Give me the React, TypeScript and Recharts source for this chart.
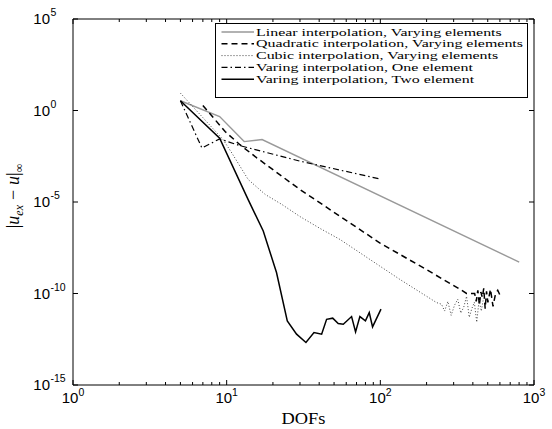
import { LineChart, Line, XAxis, YAxis, Legend } from 'recharts';

// tick positions
const xMajorTicks = [1, 10, 100, 1000];
const xMinorTicks = [2, 3, 4, 5, 6, 7, 8, 9, 20, 30, 40, 50, 60, 70, 80, 90, 200, 300, 400, 500, 600, 700, 800, 900];
const yMajorTicks = [1e-15, 1e-10, 1e-5, 1, 1e5];

// Linear interpolation, Varying elements
const linearDofs = [5, 9, 13, 17, 801];
const linearErr = [3.4, 0.47, 0.02, 0.026, 5.2e-9];

// Quadratic interpolation, Varying elements
const quadDofs = [7, 9.8, 12.2, 15.7, 30, 99, 200, 330, 364, 411, 421, 431, 441, 451, 461, 471, 481, 491, 501, 521, 541, 561, 581, 601];
const quadErr = [1.9, 0.069, 0.0135, 2.6e-3, 4.8e-5, 5.9e-8, 2e-9, 1.7e-10, 1.0e-10, 1.0e-10, 3.7e-11, 1.5e-10, 2.3e-11, 1.2e-10, 6.2e-11, 1.9e-10, 1.5e-11, 1.3e-10, 3.3e-11, 1.7e-10, 2e-11, 9e-11, 1.5e-10, 8e-11];

// Cubic interpolation, Varying elements
const cubicDofs = [5, 9.5, 10.8, 13.8, 17.8, 22.9, 30, 40.5, 54.6, 99, 134, 232, 250, 262, 275, 289, 304, 319, 334, 349, 364, 379, 394, 409, 424, 439, 454, 469];
const cubicErr = [8.9, 0.025, 4.8e-3, 1.7e-4, 2.6e-5, 7.3e-6, 1.6e-6, 3.6e-7, 9e-8, 3.2e-9, 5.9e-10, 3.2e-11, 2.6e-11, 1.1e-11, 3.7e-11, 6.4e-12, 2.3e-11, 4.8e-11, 8.5e-12, 1.8e-11, 7e-11, 5e-12, 1.5e-11, 3.3e-11, 2.7e-12, 4.3e-11, 1.1e-11, 5.5e-11];

// Varing interpolation, One element
const oneElDofs = [5, 6.9, 9, 12.2, 30, 100];
const oneElErr = [3.4, 9e-3, 0.028, 0.012, 1.7e-3, 1.8e-4];

// Varing interpolation, Two element
const twoElDofs = [5, 9, 13.8, 17.3, 21.1, 24.8, 28.5, 32.8, 37, 41.5, 44.7, 49, 53.2, 57.4, 65, 69, 73.6, 80, 84.7, 89, 101];
const twoElErr = [3.4, 0.031, 1.35e-5, 2.6e-7, 1.4e-9, 3.2e-12, 6e-13, 2.1e-13, 7.4e-13, 6e-13, 3.9e-12, 4.5e-12, 2.3e-12, 2.1e-12, 5.5e-12, 8e-13, 5.5e-12, 3.2e-12, 9e-12, 1.5e-12, 1.4e-11];

const toPoints = (xs: number[], ys: number[]) => xs.map((x, i) => ({ x, y: ys[i] }));

const SERIES = [
  { name: 'Linear interpolation, Varying elements', data: toPoints(linearDofs, linearErr), stroke: '#999999', width: 1.4, dash: undefined },
  { name: 'Quadratic interpolation, Varying elements', data: toPoints(quadDofs, quadErr), stroke: '#000000', width: 1.5, dash: '6 4' },
  { name: 'Cubic interpolation, Varying elements', data: toPoints(cubicDofs, cubicErr), stroke: '#444444', width: 1, dash: '1 2' },
  { name: 'Varing interpolation, One element', data: toPoints(oneElDofs, oneElErr), stroke: '#000000', width: 1.2, dash: '6 3 1.5 3' },
  { name: 'Varing interpolation, Two element', data: toPoints(twoElDofs, twoElErr), stroke: '#000000', width: 1.5, dash: undefined },
];

const SANS = '"Liberation Sans", Arial, sans-serif';
const SERIF = '"Liberation Serif", "Times New Roman", serif';

const exponent = (v: number) => String(Math.round(Math.log10(v)));

function BottomTick({ x, y, payload }: any) {
  const major = xMajorTicks.includes(payload.value);
  return (
    <g>
      <line x1={x} x2={x} y1={y} y2={y - (major ? 5 : 3)} stroke="#000" />
      {major && (
        <text x={x} y={y + 18} textAnchor="middle" fontFamily={SANS} fontSize={15} fill="#000">
          10<tspan dy={-7} fontSize={10.5}>{exponent(payload.value)}</tspan>
        </text>
      )}
    </g>
  );
}

function TopTick({ x, y, payload }: any) {
  const major = xMajorTicks.includes(payload.value);
  return <line x1={x} x2={x} y1={y} y2={y + (major ? 5 : 3)} stroke="#000" />;
}

function LeftTick({ x, y, payload }: any) {
  return (
    <g>
      <line x1={x} x2={x + 5} y1={y} y2={y} stroke="#000" />
      <text x={x - 23} y={y + 5} textAnchor="end" fontFamily={SANS} fontSize={15} fill="#000">10</text>
      <text x={x - 22.5} y={y - 3} textAnchor="start" fontFamily={SANS} fontSize={10.5} fill="#000">
        {exponent(payload.value)}
      </text>
    </g>
  );
}

function RightTick({ x, y }: any) {
  return <line x1={x} x2={x - 5} y1={y} y2={y} stroke="#000" />;
}

function XTitle(props: any) {
  const vb = props.viewBox || {};
  return (
    <text
      transform={`translate(${vb.x + vb.width / 2}, ${vb.y + 39}) scale(1.15, 1)`}
      textAnchor="middle"
      fontFamily={SERIF}
      fontSize={16}
      fill="#000"
    >
      DOFs
    </text>
  );
}

function YTitle(props: any) {
  const vb = props.viewBox || {};
  const cx = vb.x - 53;
  const cy = vb.y + vb.height / 2 - 6;
  return (
    <text transform={`translate(${cx}, ${cy}) rotate(-90)`} textAnchor="middle" fontFamily={SERIF} fontSize={18} fill="#000">
      |<tspan fontStyle="italic">u</tspan>
      <tspan fontStyle="italic" fontSize={12} dy={4}>ex</tspan>
      <tspan dy={-4} dx={5}>−</tspan>
      <tspan dx={5} fontStyle="italic">u</tspan>|
      <tspan fontSize={12} dy={4}>∞</tspan>
    </text>
  );
}

function LegendBox() {
  return (
    <svg width={314} height={76} style={{ display: 'block' }}>
      <rect x={0.5} y={0.5} width={312} height={74} fill="#fff" stroke="#000" />
      {SERIES.map((s, i) => {
        const base = 12.5 + i * 11.8;
        return (
          <g key={s.name}>
            <line x1={6.5} x2={39} y1={base - 3.5} y2={base - 3.5} stroke={s.stroke} strokeWidth={s.width} strokeDasharray={s.dash} />
            <text transform={`translate(41, ${base}) scale(1.45, 1)`} fontFamily={SERIF} fontSize={11} fill="#000">
              {s.name}
            </text>
          </g>
        );
      })}
    </svg>
  );
}

export default function App() {
  return (
    <div style={{ position: 'absolute', left: 0, top: 0, background: '#fff' }}>
      <LineChart width={552} height={429} margin={{ top: 18, right: 17, bottom: 43, left: 72 }}>
        <XAxis
          xAxisId="b"
          dataKey="x"
          type="number"
          scale="log"
          domain={[1, 1000]}
          allowDataOverflow
          ticks={[...xMajorTicks, ...xMinorTicks]}
          interval={0}
          height={1}
          tickSize={0}
          tickMargin={0}
          tickLine={false}
          axisLine={{ stroke: '#000' }}
          tick={<BottomTick />}
          label={<XTitle />}
        />
        <XAxis
          xAxisId="t"
          orientation="top"
          dataKey="x"
          type="number"
          scale="log"
          domain={[1, 1000]}
          allowDataOverflow
          ticks={[...xMajorTicks, ...xMinorTicks]}
          interval={0}
          height={1}
          tickSize={0}
          tickMargin={0}
          tickLine={false}
          axisLine={{ stroke: '#000' }}
          tick={<TopTick />}
        />
        <YAxis
          yAxisId="l"
          type="number"
          scale="log"
          domain={[1e-15, 1e5]}
          allowDataOverflow
          ticks={yMajorTicks}
          interval={0}
          width={1}
          tickSize={0}
          tickMargin={0}
          tickLine={false}
          axisLine={{ stroke: '#000' }}
          tick={<LeftTick />}
          label={<YTitle />}
        />
        <YAxis
          yAxisId="r"
          orientation="right"
          type="number"
          scale="log"
          domain={[1e-15, 1e5]}
          allowDataOverflow
          ticks={yMajorTicks}
          interval={0}
          width={1}
          tickSize={0}
          tickMargin={0}
          tickLine={false}
          axisLine={{ stroke: '#000' }}
          tick={<RightTick />}
        />
        {SERIES.map((s) => (
          <Line
            key={s.name}
            xAxisId="b"
            yAxisId="l"
            data={s.data}
            dataKey="y"
            name={s.name}
            type="linear"
            stroke={s.stroke}
            strokeWidth={s.width}
            strokeDasharray={s.dash}
            dot={false}
            activeDot={false}
            isAnimationActive={false}
          />
        ))}
        <Legend
          layout="horizontal"
          align="center"
          verticalAlign="middle"
          wrapperStyle={{ left: 215, top: 23, width: 314 }}
          content={() => <LegendBox />}
        />
      </LineChart>
    </div>
  );
}
